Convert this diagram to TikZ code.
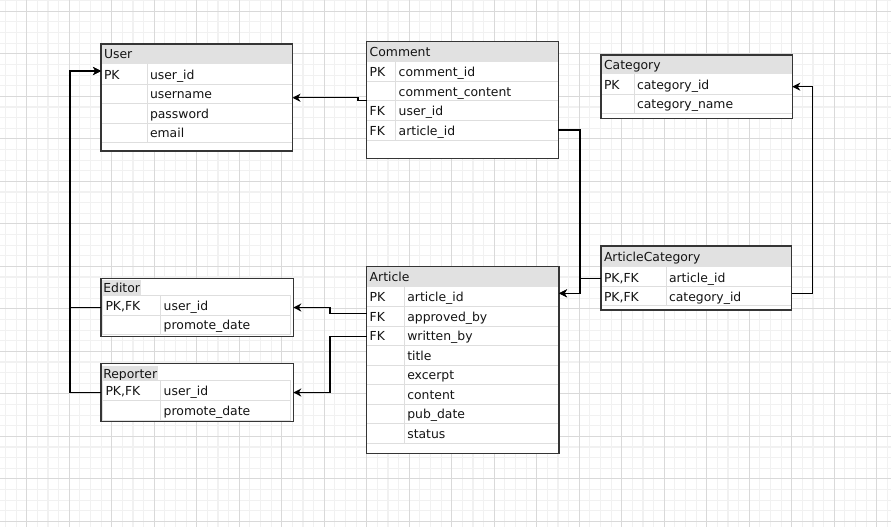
\documentclass[tikz,border=0pt]{standalone}
\usepackage{fontspec}
\setmainfont{DejaVu Sans}
\usetikzlibrary{arrows.meta}

\definecolor{gridminor}{HTML}{F1F1F1}
\definecolor{gridmajor}{HTML}{D9D9D9}
\definecolor{hdrgray}{HTML}{E1E1E1}
\definecolor{seplight}{HTML}{DEDEDE}
\definecolor{edge}{HTML}{353535}
\definecolor{ink}{HTML}{141414}

\tikzset{
  tblbody/.style={fill=white, draw=none, inner sep=0, outer sep=0, anchor=north west},
  hdrfill/.style={fill=hdrgray, draw=none, inner sep=0, outer sep=0, anchor=north west},
  rowcell/.style={draw=none, inner sep=0, outer sep=0, anchor=north west},
  rowsep/.style={draw=seplight, line width=0.9pt},
  tblborder/.style={draw=edge, line width=1.2pt},
  txt/.style={anchor=base west, inner sep=0, outer sep=0, text=ink, font=\fontsize{12.4}{14}\selectfont},
  fk/.style={draw=black, line width=1.3pt, -{Stealth[length=8pt,width=8pt,inset=2.5pt]}},
  minorline/.style={draw=gridminor, line width=1.1pt},
  majorline/.style={draw=gridmajor, line width=0.9pt},
}

% table body: name, x, y, width, height
\newcommand\tblbox[5]{\node[tblbody, minimum width=#4, minimum height=#5] (#1) at (#2,#3) {};}
% full-width header: name, x, y, width, height, title
\newcommand\tblhead[6]{%
  \node[hdrfill, minimum width=#4, minimum height=#5] (#1) at (#2,#3) {};
  \node[txt] (#1-t) at ({#2+3},{#3+#5/2+5}) {#6};}
% row: name, x, y, width, height, divider x, key, field
\newcommand\tblrow[8]{%
  \node[rowcell, minimum width=#4, minimum height=#5] (#1) at (#2,#3) {};
  \draw[rowsep] (#1.south west) -- (#1.south east);
  \draw[rowsep] (#6,#3) -- ++(0,#5);
  \node[txt] (#1-k) at ({#2+3},{#3+#5/2+5}) {#7};
  \node[txt] (#1-f) at ({#6+3},{#3+#5/2+5}) {#8};}
% outer frame of a table
\newcommand\tblframe[1]{\draw[tblborder] (#1.north west) rectangle (#1.south east);}

\begin{document}
\begin{tikzpicture}[x=1pt,y=-1pt]
\useasboundingbox (0,0) rectangle (891,527);
\fill[white] (0,0) rectangle (891,527);

% background grid
\foreach \i in {0,...,83} {\draw[minorline] ({5.45+\i*10.625},0) -- ++(0,527);}
\foreach \i in {0,...,49} {\draw[minorline] (0,{0.7+\i*10.625}) -- ++(891,0);}
\foreach \i in {0,...,20} {\draw[majorline] ({26.7+\i*42.5},0) -- ++(0,527);}
\foreach \i in {0,...,12} {\draw[majorline] (0,{11.3+\i*42.5}) -- ++(891,0);}

% User
\tblbox{usr}{101}{44}{191.5}{107}
\tblhead{usr-h}{101}{44}{191.5}{20}{User}
\tblrow{usr-1}{101}{64}{191.5}{20}{147}{PK}{user\_id}
\tblrow{usr-2}{101}{84}{191.5}{19.5}{147}{}{username}
\tblrow{usr-3}{101}{103.5}{191.5}{19.5}{147}{}{password}
\tblrow{usr-4}{101}{123}{191.5}{19.5}{147}{}{email}
\tblframe{usr}

% Comment
\tblbox{cmt}{366.7}{41.7}{191.6}{116.6}
\tblhead{cmt-h}{366.7}{41.7}{191.6}{20}{Comment}
\tblrow{cmt-1}{366.7}{61.7}{191.6}{20}{395.7}{PK}{comment\_id}
\tblrow{cmt-2}{366.7}{81.7}{191.6}{19}{395.7}{}{comment\_content}
\tblrow{cmt-3}{366.7}{100.7}{191.6}{19.3}{395.7}{FK}{user\_id}
\tblrow{cmt-4}{366.7}{120}{191.6}{20}{395.7}{FK}{article\_id}
\tblframe{cmt}

% Category
\tblbox{cat}{601}{55}{191.3}{63.3}
\tblhead{cat-h}{601}{55}{191.3}{19.3}{Category}
\tblrow{cat-1}{601}{74.3}{191.3}{20}{634}{PK}{category\_id}
\tblrow{cat-2}{601}{94.3}{191.3}{19}{634}{}{category\_name}
\tblframe{cat}

% ArticleCategory
\tblbox{ac}{601}{246}{190.7}{64}
\tblhead{ac-h}{601}{246}{190.7}{21.3}{ArticleCategory}
\tblrow{ac-1}{601}{267.3}{190.7}{19.4}{666}{PK,FK}{article\_id}
\tblrow{ac-2}{601}{286.7}{190.7}{19}{666}{PK,FK}{category\_id}
\tblframe{ac}

% Article
\tblbox{art}{366.7}{266.7}{192.3}{186.6}
\tblhead{art-h}{366.7}{266.7}{192.3}{20}{Article}
\tblrow{art-1}{366.7}{286.7}{192.3}{20}{404.3}{PK}{article\_id}
\tblrow{art-2}{366.7}{306.7}{192.3}{19.3}{404.3}{FK}{approved\_by}
\tblrow{art-3}{366.7}{326}{192.3}{19.3}{404.3}{FK}{written\_by}
\tblrow{art-4}{366.7}{345.3}{192.3}{19.7}{404.3}{}{title}
\tblrow{art-5}{366.7}{365}{192.3}{19.3}{404.3}{}{excerpt}
\tblrow{art-6}{366.7}{384.3}{192.3}{19.7}{404.3}{}{content}
\tblrow{art-7}{366.7}{404}{192.3}{19.3}{404.3}{}{pub\_date}
\tblrow{art-8}{366.7}{423.3}{192.3}{20}{404.3}{}{status}
\tblframe{art}

% Editor
\tblbox{edt}{101}{278.3}{192.3}{58.4}
\node[hdrfill, minimum width=38.4, minimum height=14.5] (edt-h) at (102.3,280) {};
\node[txt] (edt-t) at (103.3,292.7) {Editor};
\tblrow{edt-1}{102.5}{295}{187.5}{20}{160.7}{PK,FK}{user\_id}
\tblrow{edt-2}{102.5}{315}{187.5}{19.5}{160.7}{}{promote\_date}
\draw[rowsep] (edt-1.north west) rectangle (edt-2.south east);
\tblframe{edt}

% Reporter
\tblbox{rep}{101}{363.3}{192.3}{58.4}
\node[hdrfill, minimum width=56, minimum height=14.5] (rep-h) at (102.3,365.7) {};
\node[txt] (rep-t) at (103.3,378.3) {Reporter};
\tblrow{rep-1}{102.5}{380.7}{187.5}{20}{160.7}{PK,FK}{user\_id}
\tblrow{rep-2}{102.5}{400.7}{187.5}{19.3}{160.7}{}{promote\_date}
\draw[rowsep] (rep-1.north west) rectangle (rep-2.south east);
\tblframe{rep}

% foreign keys
\draw[fk] (cmt-3.north west) -- ++(-8.7,0) |- ([yshift=-4pt]usr-2.east);
\draw[fk] (cmt-4.east) -- ++(21.7,0) |- ([yshift=3.4pt]art-1.east);
\draw[fk] ([yshift=-1.3pt]ac-1.west) -- ++(-21,0) |- ([yshift=3.4pt]art-1.east);
\draw[fk] ([yshift=2.9pt]ac-2.east) -- ++(21,0) |- ([yshift=-2.4pt]cat-1.east);
\draw[fk] ([yshift=3pt]art-2.west) -- ++(-36.7,0) |- (edt.east);
\draw[fk] ([yshift=-1pt]art-3.west) -- ++(-36.7,0) |- (rep.east);
\draw[fk] (edt.west) -- ++(-31,0) |- ([yshift=3pt]usr-1.west);
\draw[fk] (rep.west) -- ++(-31,0) |- ([yshift=3pt]usr-1.west);
\end{tikzpicture}
\end{document}
